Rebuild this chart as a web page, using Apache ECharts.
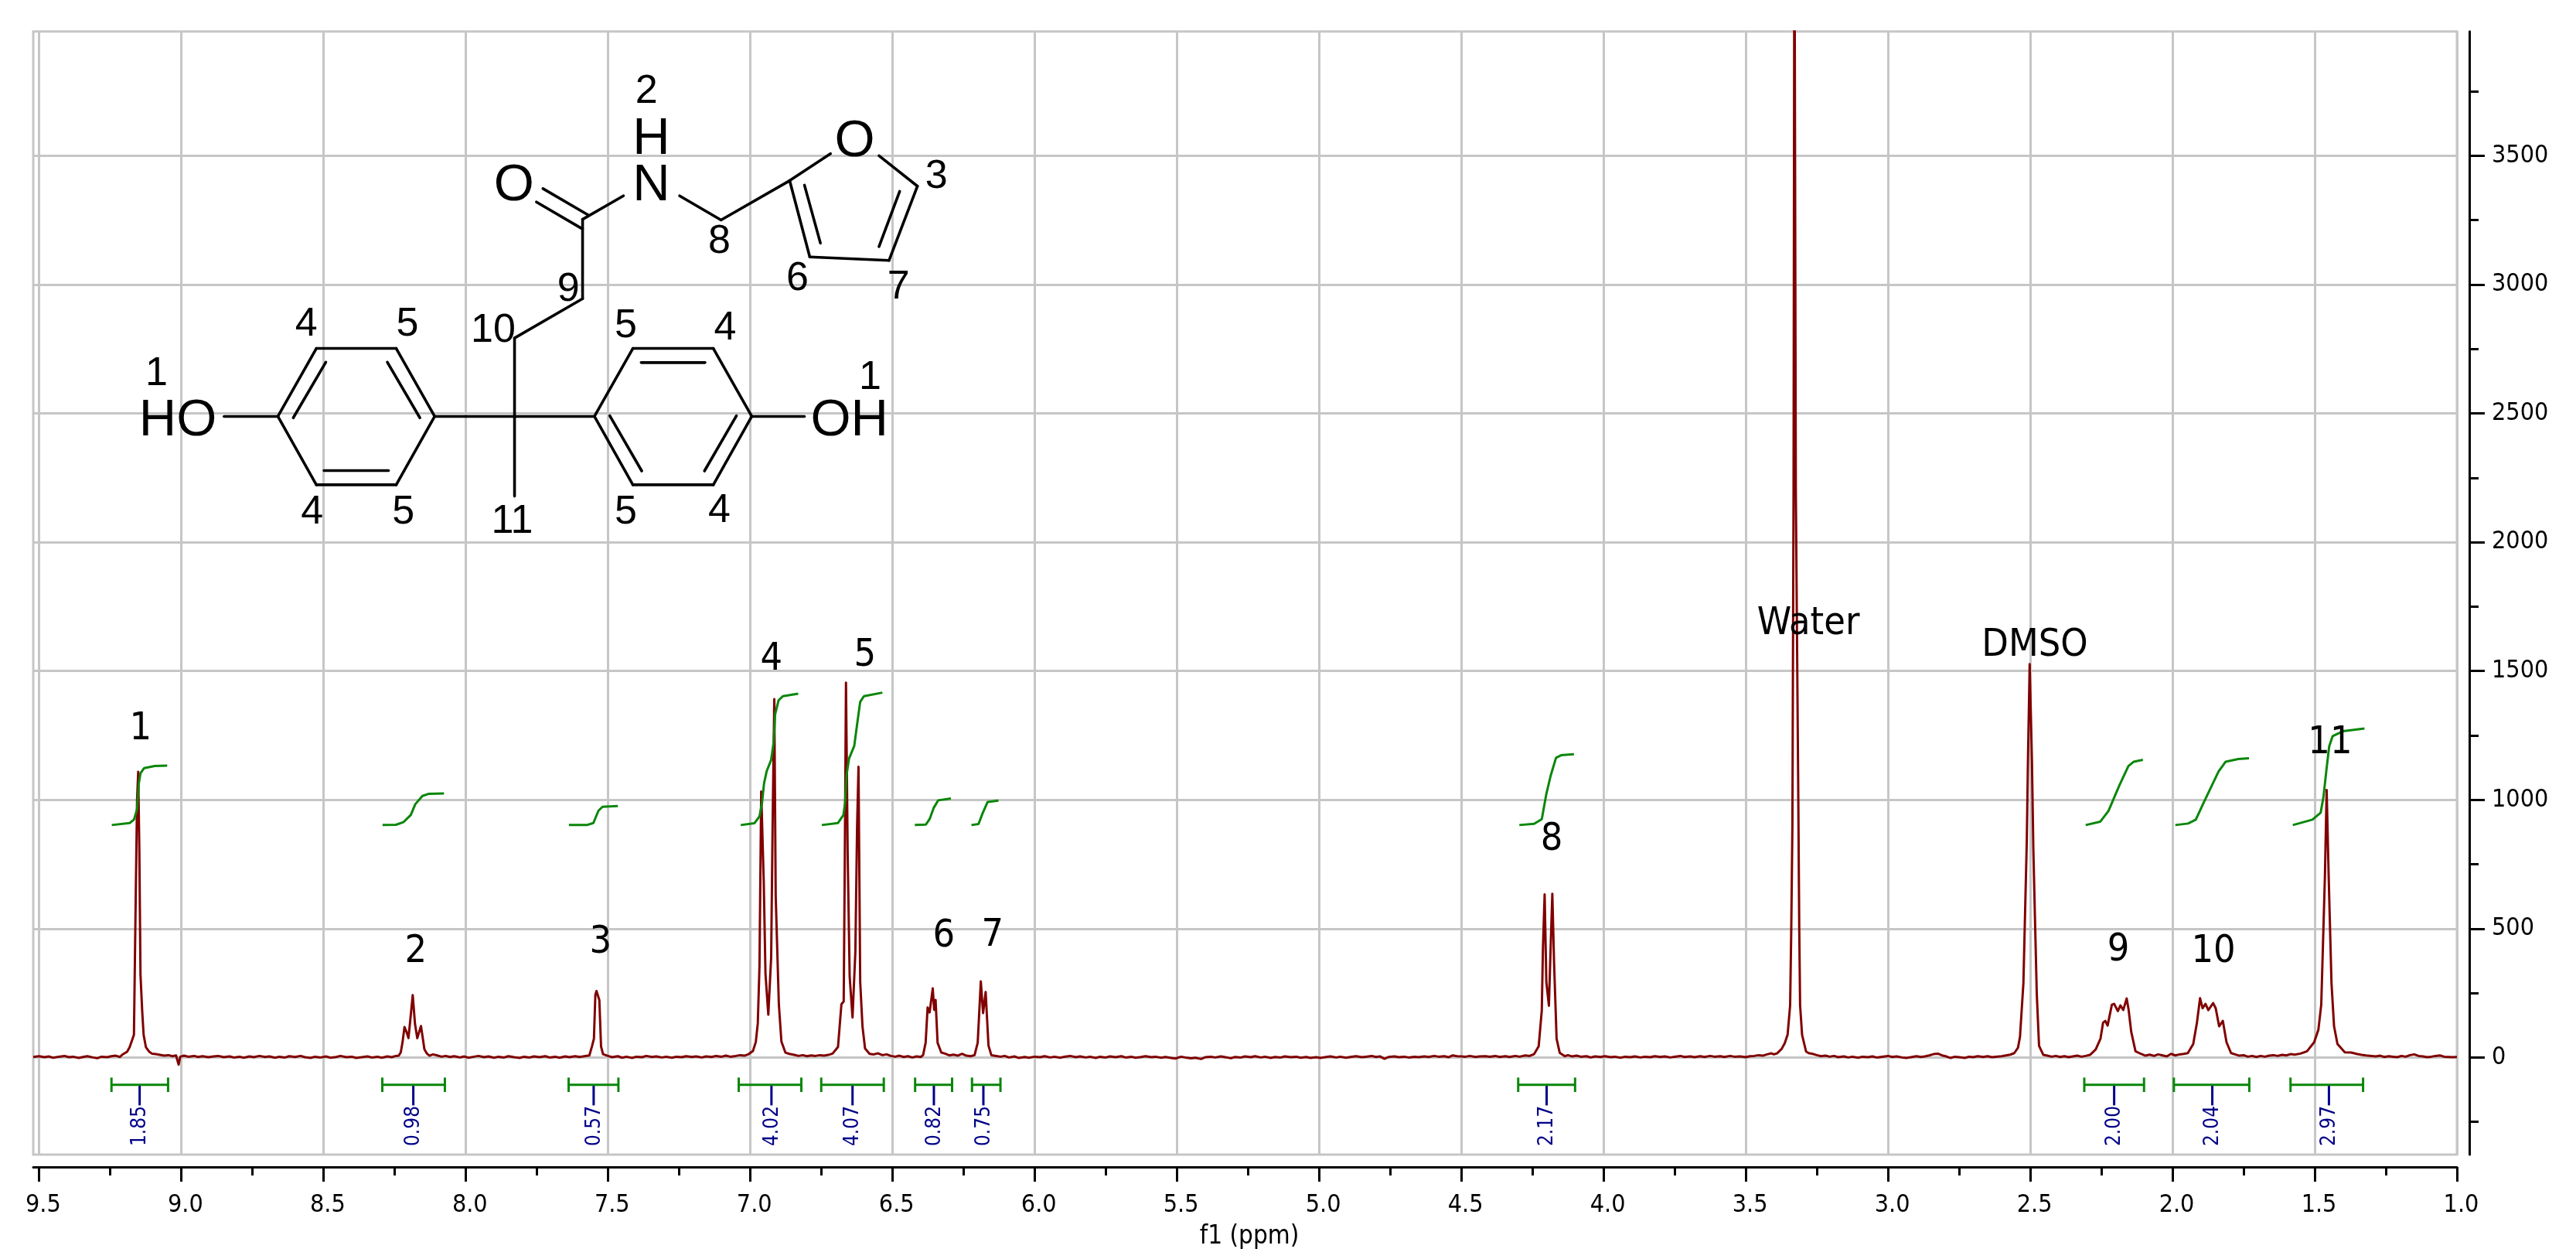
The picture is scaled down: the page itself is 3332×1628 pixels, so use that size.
<!DOCTYPE html>
<html><head><meta charset="utf-8">
<script src="https://cdn.jsdelivr.net/npm/echarts@6/dist/echarts.min.js"></script>
<style>html,body{margin:0;padding:0;background:#fff}#c{width:3332px;height:1628px}</style>
</head><body><div id="c"></div>
<script>
// ---------- axis values ----------
const xMajor = [1.0,1.5,2.0,2.5,3.0,3.5,4.0,4.5,5.0,5.5,6.0,6.5,7.0,7.5,8.0,8.5,9.0,9.5];
const xMinor = [1.25,1.75,2.25,2.75,3.25,3.75,4.25,4.75,5.25,5.75,6.25,6.75,7.25,7.75,8.25,8.75,9.25];
const yMajor = [0,500,1000,1500,2000,2500,3000,3500];
const yMinor = [-250,250,750,1250,1750,2250,2750,3250,3750];

// ---------- spectrum (ppm, intensity) ----------
const base1 = [[9.52,2],[9.50,5],[9.48,1],[9.465,4],[9.45,-1],[9.43,3],[9.41,6],[9.395,1],[9.38,3],[9.36,-2],[9.345,2],[9.33,5],[9.31,0],[9.295,-3],[9.28,3],[9.26,1],[9.245,5],[9.23,7],[9.215,2]];
const peak1 = [[9.207,11],[9.19,22],[9.181,40],[9.166,88],[9.160,600],[9.155,1000],[9.151,1109],[9.147,800],[9.143,322],[9.137,180],[9.132,88],[9.124,40],[9.112,22],[9.103,15]];
const base2 = [[9.09,13],[9.075,10],[9.06,7],[9.045,9],[9.03,5],[9.018,8],[9.009,-28],[9.003,3],[8.99,7],[8.975,3],[8.955,6],[8.94,2],[8.925,5],[8.905,1],[8.885,4],[8.87,6],[8.85,1],[8.83,4],[8.815,0],[8.795,3],[8.78,-1],[8.76,4],[8.745,1],[8.725,6],[8.705,2],[8.69,4],[8.67,-1],[8.655,3],[8.635,0],[8.62,5],[8.60,2],[8.58,6],[8.565,1],[8.545,-2],[8.53,3],[8.51,0],[8.49,4],[8.475,-1],[8.455,2],[8.44,6],[8.42,1],[8.40,3],[8.385,-2],[8.365,1],[8.345,4],[8.33,0],[8.31,3],[8.295,-1],[8.275,4],[8.26,1],[8.245,6]];
const peak2 = [[8.235,7],[8.228,20],[8.222,58],[8.215,118],[8.208,100],[8.201,75],[8.195,140],[8.186,242],[8.178,130],[8.17,75],[8.157,122],[8.15,70],[8.145,32],[8.136,15],[8.127,7]];
const base3 = [[8.115,12],[8.10,8],[8.085,3],[8.07,6],[8.055,2],[8.04,5],[8.02,0],[8.005,4],[7.99,-1],[7.97,3],[7.955,6],[7.935,1],[7.92,4],[7.90,-1],[7.885,3],[7.865,0],[7.85,5],[7.83,1],[7.81,-2],[7.795,3],[7.775,0],[7.76,4],[7.74,1],[7.72,5],[7.705,0],[7.685,3],[7.67,-1],[7.65,4],[7.635,1],[7.615,5],[7.60,2]];
const peak3 = [[7.587,4],[7.565,8],[7.556,43],[7.549,73],[7.544,243],[7.54,258],[7.535,258],[7.53,223],[7.524,43],[7.517,13]];
const base4 = [[7.50,6],[7.485,1],[7.465,5],[7.45,-1],[7.435,3],[7.415,-2],[7.40,3],[7.38,1],[7.365,6],[7.345,2],[7.33,4],[7.31,0],[7.295,3],[7.275,-1],[7.26,3],[7.24,1],[7.225,5],[7.205,2],[7.19,4],[7.17,0],[7.155,4],[7.135,2],[7.12,6],[7.10,3],[7.085,7],[7.07,3],[7.05,6],[7.035,9],[7.02,7],[7.005,13]];
const peak4 = [[6.99,25],[6.98,60],[6.973,132],[6.967,357],[6.961,1032],[6.952,678],[6.946,325],[6.936,166],[6.926,389],[6.921,893],[6.915,1391],[6.91,625],[6.899,207],[6.89,62],[6.876,19],[6.862,14]];
const inter45 = [[6.845,10],[6.83,6],[6.815,9],[6.80,5],[6.785,8],[6.77,6],[6.755,9],[6.74,7],[6.725,10],[6.71,15]];
const peak5 = [[6.691,41],[6.679,207],[6.671,217],[6.667,786],[6.663,1455],[6.657,786],[6.65,314],[6.64,155],[6.63,410],[6.624,893],[6.619,1128],[6.613,293],[6.605,121],[6.596,35],[6.58,14]];
const inter56 = [[6.565,12],[6.55,16],[6.535,9],[6.52,12],[6.505,6],[6.49,3],[6.475,7],[6.46,2],[6.445,5],[6.43,0],[6.415,4],[6.40,2]];
const peak6 = [[6.392,9],[6.383,57],[6.376,194],[6.369,175],[6.358,268],[6.353,185],[6.348,223],[6.341,57],[6.328,19]];
const inter67 = [[6.315,15],[6.30,8],[6.285,11],[6.27,7],[6.255,14],[6.24,7],[6.225,5]];
const peak7 = [[6.211,9],[6.2,57],[6.189,295],[6.181,172],[6.172,254],[6.162,46],[6.152,9]];
const base5 = [[6.135,6],[6.12,3],[6.105,6],[6.09,0],[6.07,4],[6.055,-2],[6.035,2],[6.02,-1],[6.0,3],[5.98,1],[5.965,5],[5.945,0],[5.93,3],[5.91,-1],[5.895,3],[5.875,6],[5.855,1],[5.84,4],[5.82,0],[5.805,3],[5.785,-2],[5.77,3],[5.75,0],[5.735,4],[5.715,1],[5.695,5],[5.68,0],[5.66,3],[5.645,-1],[5.625,2],[5.61,5],[5.59,1],[5.575,3],[5.555,-1],[5.54,2],[5.52,-2],[5.505,-4],[5.485,3],[5.47,0],[5.45,-3],[5.435,-1],[5.415,-6],[5.40,1],[5.38,3],[5.365,0],[5.345,4],[5.33,1],[5.31,-3],[5.295,2],[5.275,0],[5.26,4],[5.24,1],[5.225,5],[5.205,0],[5.19,3],[5.17,-2],[5.155,2],[5.135,0],[5.12,4],[5.10,1],[5.08,3],[5.065,-1],[5.045,2],[5.03,-2],[5.01,1],[4.995,-2],[4.975,2],[4.96,4],[4.94,0],[4.925,3],[4.905,-1],[4.89,2],[4.87,5],[4.85,1],[4.835,3],[4.815,6],[4.80,2],[4.785,4],[4.77,-5],[4.755,2],[4.735,4],[4.72,1],[4.70,3],[4.685,0],[4.665,3],[4.65,1],[4.63,4],[4.615,2],[4.595,6],[4.58,3],[4.56,5],[4.545,1],[4.53,8],[4.515,5],[4.50,4],[4.485,3],[4.47,6],[4.45,2],[4.435,4],[4.415,5],[4.40,3],[4.38,6],[4.365,2],[4.345,5],[4.33,2],[4.31,6],[4.295,3],[4.275,8],[4.26,6]];
const peak8 = [[4.244,13],[4.228,43],[4.217,183],[4.213,423],[4.207,633],[4.201,293],[4.192,201],[4.186,423],[4.18,635],[4.174,373],[4.165,73],[4.154,18],[4.136,5]];
const base6 = [[4.125,9],[4.11,4],[4.095,7],[4.08,3],[4.06,5],[4.045,0],[4.03,4],[4.01,2],[3.995,5],[3.975,1],[3.96,3],[3.94,-1],[3.925,3],[3.905,1],[3.89,4],[3.87,0],[3.855,3],[3.835,1],[3.82,5],[3.80,2],[3.785,4],[3.765,0],[3.75,3],[3.73,6],[3.715,2],[3.695,4],[3.68,1],[3.66,5],[3.645,2],[3.625,6],[3.61,3],[3.59,5],[3.575,2],[3.555,6],[3.54,3],[3.52,4],[3.50,1],[3.485,5],[3.47,6],[3.455,9],[3.44,7],[3.425,12],[3.41,16]];
const peakWater = [[3.401,12],[3.39,16],[3.374,33],[3.363,55],[3.353,88],[3.344,203],[3.34,503],[3.336,903],[3.332,2200],[3.329,4600],[3.324,2200],[3.316,1103],[3.312,503],[3.309,203],[3.302,88],[3.288,23],[3.279,17]];
const base7 = [[3.265,14],[3.25,9],[3.235,5],[3.22,7],[3.205,3],[3.19,6],[3.175,1],[3.155,4],[3.14,0],[3.125,3],[3.105,-1],[3.09,3],[3.07,1],[3.055,4],[3.04,0],[3.02,3],[3.0,6],[2.985,2],[2.97,4],[2.95,0],[2.935,-2],[2.915,2],[2.90,5],[2.885,2],[2.87,4],[2.855,8],[2.84,13],[2.825,15],[2.81,8],[2.795,4],[2.78,-2],[2.765,3],[2.75,1],[2.73,-2],[2.715,3],[2.70,1],[2.685,5],[2.665,2],[2.65,5],[2.635,1],[2.62,3],[2.60,5],[2.585,8],[2.57,11]];
const peakDmso = [[2.556,17],[2.543,38],[2.536,80],[2.524,289],[2.512,846],[2.508,1152],[2.502,1527],[2.494,1152],[2.489,804],[2.477,247],[2.469,45],[2.454,10]];
const base8 = [[2.44,7],[2.425,3],[2.41,6],[2.395,2],[2.38,5],[2.365,1],[2.35,4],[2.335,7],[2.32,3],[2.305,6],[2.29,10]];
const peak9 = [[2.27,31],[2.253,73],[2.244,135],[2.236,142],[2.228,124],[2.213,205],[2.205,208],[2.192,180],[2.183,202],[2.173,184],[2.161,229],[2.154,184],[2.145,100],[2.13,24],[2.111,14]];
const base9 = [[2.095,7],[2.08,11],[2.065,6],[2.05,12],[2.035,8],[2.02,4],[2.005,14],[1.99,8],[1.975,12],[1.96,14]];
const peak10 = [[1.946,17],[1.927,52],[1.914,135],[1.903,230],[1.894,191],[1.884,208],[1.874,184],[1.857,211],[1.848,191],[1.836,121],[1.823,142],[1.81,59],[1.794,17]];
const base10 = [[1.78,12],[1.765,7],[1.75,9],[1.735,3],[1.72,6],[1.705,2],[1.69,6],[1.675,3],[1.66,7],[1.645,9],[1.63,6],[1.615,10],[1.60,8],[1.585,13],[1.57,11],[1.55,15]];
const peak11 = [[1.527,24],[1.502,59],[1.487,108],[1.477,205],[1.464,707],[1.458,1038],[1.451,707],[1.441,289],[1.432,121],[1.42,52],[1.394,20],[1.372,19],[1.35,13]];
const base11 = [[1.335,10],[1.32,8],[1.30,6],[1.285,4],[1.27,7],[1.255,2],[1.24,5],[1.225,3],[1.21,1],[1.195,6],[1.18,3],[1.165,9],[1.15,12],[1.135,6],[1.12,4],[1.105,1],[1.09,3],[1.075,6],[1.06,8],[1.045,3],[1.03,2],[1.015,1],[1.0,2]];

// ---------- integral curves (ppm, height) ----------
const integral1 = [[9.244,902],[9.181,910],[9.166,923],[9.155,963],[9.149,1063],[9.143,1103],[9.130,1123],[9.093,1131],[9.049,1133]];
const integral2 = [[8.292,902],[8.245,903],[8.219,913],[8.193,941],[8.177,983],[8.152,1015],[8.131,1023],[8.076,1025]];
const integral3 = [[7.637,902],[7.574,902],[7.551,910],[7.533,958],[7.519,973],[7.465,976]];
const integral4 = [[7.033,902],[6.985,909],[6.967,936],[6.958,989],[6.951,1064],[6.942,1110],[6.926,1155],[6.917,1225],[6.912,1332],[6.900,1386],[6.885,1402],[6.831,1412]];
const integral5 = [[6.748,902],[6.691,910],[6.672,941],[6.666,989],[6.661,1097],[6.652,1161],[6.634,1209],[6.623,1300],[6.613,1380],[6.600,1402],[6.535,1416]];
const integral6 = [[6.421,902],[6.382,904],[6.369,925],[6.355,968],[6.339,998],[6.294,1005]];
const integral7 = [[6.222,902],[6.197,906],[6.183,947],[6.165,992],[6.127,997]];
const integral8 = [[4.296,902],[4.244,907],[4.217,925],[4.201,1023],[4.186,1093],[4.167,1163],[4.149,1173],[4.104,1177]];
const integral9 = [[2.305,902],[2.254,915],[2.225,957],[2.187,1055],[2.155,1131],[2.136,1148],[2.104,1155]];
const integral10 = [[1.990,902],[1.945,908],[1.918,923],[1.889,992],[1.838,1110],[1.813,1148],[1.769,1158],[1.731,1161]];
const integral11 = [[1.577,902],[1.508,923],[1.479,950],[1.469,1013],[1.458,1124],[1.449,1208],[1.437,1247],[1.401,1266],[1.325,1277]];

// ---------- integral regions: start ppm, end ppm, label ppm, label ----------
const regionStart = [9.245,8.293,7.638,7.04,6.75,6.42,6.22,4.30,2.31,1.995,1.585];
const regionEnd   = [9.046,8.073,7.463,6.82,6.53,6.29,6.12,4.10,2.10,1.73,1.33];
const regionMid   = [9.146,8.184,7.55,6.925,6.64,6.354,6.18,4.20,2.205,1.86,1.45];
const regionText  = ['1.85','0.98','0.57','4.02','4.07','0.82','0.75','2.17','2.00','2.04','2.97'];

// ---------- peak assignments ----------
const peakText = ['1','2','3','4','5','6','7','8','Water','DMSO','9','10','11'];
const peakPpm  = [9.143,8.175,7.526,6.925,6.596,6.319,6.148,4.182,3.280,2.484,2.190,1.856,1.446];
const peakY    = [1274,410,446,1544,1559,470,473,845,1682,1598,416,410,1220];

const spectrum = [].concat(base1,peak1,base2,peak2,base3,peak3,base4,peak4,inter45,peak5,inter56,peak6,inter67,peak7,base5,peak8,base6,peakWater,base7,peakDmso,base8,peak9,base9,peak10,base10,peak11,base11);
const integrals = [integral1,integral2,integral3,integral4,integral5,integral6,integral7,integral8,integral9,integral10,integral11];
const regions = regionText.map((t,i)=>[regionStart[i],regionEnd[i],regionMid[i],t]);
const peakLabels = peakText.map((t,i)=>[peakPpm[i],peakY[i],t]);

const UI = '"DejaVu Sans Condensed","DejaVu Sans"';
const GRID='#c6c6c6', BLACK='#000', RED='#800000', GREEN='#0a860a', BLUE='#000088';

// molecule drawing (annotation, not data)
const mx=z=>100+z/1.3067, my=z=>30+z/2.24;
const bonds=[[339,1139,404,942],[404,942,539,942],[539,942,604,1139],[604,1139,539,1337],[539,1337,404,1337],[404,1337,339,1139],
[420,982,365,1143],[524,982,579,1143],[417,1296,526,1296],[248,1139,339,1139],[604,1139,874,1139],
[874,1139,939,942],[939,942,1075,942],[1075,942,1140,1139],[1140,1139,1075,1337],[1075,1337,939,1337],[939,1337,874,1139],
[953,983,1061,983],[900,1137,954,1297],[1114,1137,1060,1297],[1140,1139,1229,1139],[739,912,739,1370],[739,912,854,798],[854,798,854,568],
[854,596,776,518],[864,556,787,479],[854,568,923,500],[1018,500,1088,570],[1088,570,1204,456],[1204,456,1273,378],[1355,384,1420,472],
[1420,472,1372,687],[1372,687,1238,677],[1238,677,1204,456],[1229,469,1256,637],[1390,487,1355,647]];
const atoms=[['O',738,471],['N',970,471],['H',970,338],['O',1314,344],['HO',170,1153],['OH',1305,1153]];
const nums=[['2',962,198],['3',1452,444],['8',1085,634],['6',1217,741],['7',1388,765],['9',830,771],['10',703,890],['5',558,873],['4',387,873],['5',927,878],['4',1095,883],['1',134,1016],['1',1340,1028],['4',397,1418],['5',551,1418],['11',735,1445],['5',927,1418],['4',1085,1413]];
const graphics=[];
bonds.forEach(b=>graphics.push({type:'line',z:20,shape:{x1:mx(b[0]),y1:my(b[1]),x2:mx(b[2]),y2:my(b[3])},style:{stroke:'#000',lineWidth:3.6,lineCap:'round'}}));
atoms.forEach(a=>graphics.push({type:'text',z:20,x:mx(a[1]),y:my(a[2]),style:{text:a[0],fill:'#000',font:'67px "Liberation Sans"',textAlign:'center',textVerticalAlign:'middle'}}));
nums.forEach(a=>graphics.push({type:'text',z:20,x:mx(a[1]),y:my(a[2]),style:{text:a[0],fill:'#000',font:'52px "Liberation Sans"',textAlign:'center',textVerticalAlign:'middle'}}));

const X0={type:'value',inverse:true,min:1.0,max:9.52,position:'bottom',offset:16,
  name:'f1 (ppm)',nameLocation:'middle',nameGap:74,nameTextStyle:{fontFamily:UI,fontSize:33,color:'#000',padding:[0,0,0,11]},
  axisLine:{show:true,onZero:false,lineStyle:{color:BLACK,width:3}},
  axisTick:{show:true,length:19,customValues:xMajor,lineStyle:{color:BLACK,width:3}},
  axisLabel:{show:true,customValues:xMajor,margin:34,fontFamily:UI,fontSize:32,color:'#000',padding:[0,0,0,11],formatter:v=>v.toFixed(1),hideOverlap:false},
  splitLine:{show:true,lineStyle:{color:GRID,width:3}}};
const X1={type:'value',inverse:true,min:1.0,max:9.52,position:'bottom',offset:16,
  axisLine:{show:false,onZero:false},axisTick:{show:true,length:11,customValues:xMinor,lineStyle:{color:BLACK,width:3}},
  axisLabel:{show:false},splitLine:{show:false}};
const Y0={type:'value',min:-377,max:3982,position:'right',offset:16,
  axisLine:{show:true,onZero:false,lineStyle:{color:BLACK,width:3}},
  axisTick:{show:true,length:20,customValues:yMajor,lineStyle:{color:BLACK,width:3}},
  axisLabel:{show:true,customValues:yMajor,margin:29,fontFamily:UI,fontSize:32,color:'#000',formatter:v=>String(v),hideOverlap:false},
  splitLine:{show:true,lineStyle:{color:GRID,width:3}}};
const Y1={type:'value',min:-377,max:3982,position:'right',offset:16,
  axisLine:{show:false,onZero:false},axisTick:{show:true,length:12,customValues:yMinor,lineStyle:{color:BLACK,width:3}},
  axisLabel:{show:false},splitLine:{show:false}};

const series=[
 {type:'line',name:'spectrum',data:spectrum,showSymbol:false,silent:true,z:3,lineStyle:{color:RED,width:3,join:'round'}}
];
integrals.forEach(d=>series.push({type:'line',data:d,showSymbol:false,z:4,silent:true,smooth:false,lineStyle:{color:GREEN,width:3}}));
series.push({type:'custom',data:regions,z:5,silent:true,clip:false,encode:{x:[0,1,2],y:[]},
 renderItem(params,api){
  const y=-106,cap=28,stemEnd=-186,textMid=-266;
  const a=api.coord([api.value(0),y]),b=api.coord([api.value(1),y]),m=api.coord([api.value(2),y]);
  const capPx=cap*api.size([0,1])[1], se=api.coord([api.value(2),stemEnd]), tm=api.coord([api.value(2),textMid]);
  const ln=(x1,y1,x2,y2,c)=>({type:'line',shape:{x1,y1,x2,y2},style:{stroke:c,lineWidth:3}});
  return {type:'group',children:[
    ln(m[0],m[1],se[0],se[1],BLUE),
    ln(a[0],a[1],b[0],b[1],GREEN),ln(a[0],a[1]-capPx,a[0],a[1]+capPx,GREEN),ln(b[0],b[1]-capPx,b[0],b[1]+capPx,GREEN),
    {type:'text',x:tm[0]+1,y:tm[1],rotation:Math.PI/2,style:{text:regionText[params.dataIndex],fill:BLUE,font:'26px '+UI,textAlign:'center',textVerticalAlign:'middle'}}
  ]};
 }});
series.push({type:'custom',data:peakLabels,z:6,silent:true,clip:false,encode:{x:0,y:1},
 renderItem(params,api){
  const p=api.coord([api.value(0),api.value(1)]);
  return {type:'text',x:p[0],y:p[1],style:{text:peakText[params.dataIndex],fill:'#000',font:'50px '+UI,textAlign:'center',textVerticalAlign:'middle'}};
 }});

const chart=echarts.init(document.getElementById('c'),null,{renderer:'canvas',width:3332,height:1628});
chart.setOption({animation:false,backgroundColor:'#fff',
 grid:{show:true,left:43,right:154,top:40.7,bottom:135,outerBoundsMode:'none',containLabel:false,borderColor:GRID,borderWidth:3,backgroundColor:'transparent'},
 xAxis:[X0,X1],yAxis:[Y0,Y1],series,graphic:{elements:graphics},tooltip:{show:false}});
</script></body></html>
